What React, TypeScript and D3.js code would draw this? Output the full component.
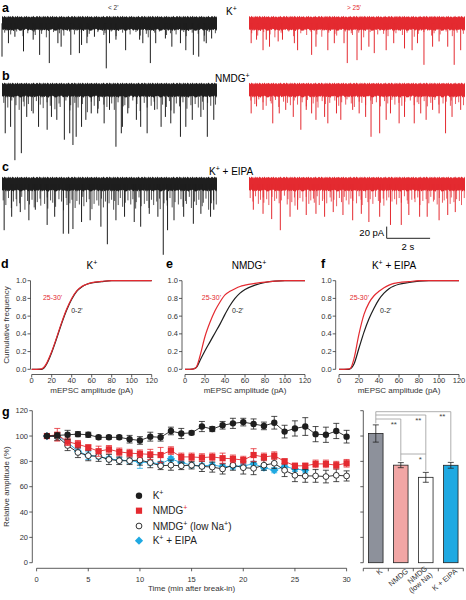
import React from "react";
import * as d3 from "d3";

const FONT = "'Liberation Sans', Arial, Helvetica, sans-serif";
const BLACK = "#1e1e1e";
const RED = "#e42a30";
const CYAN = "#1fa9e2";
const GREYBAR = "#8d919b";
const PINK = "#f2a6a5";

// ---------- traces (a, b, c): [time s, amplitude pA] ----------
const aBlackEvents = [[0.0,57],[0.3,34],[0.6,23],[1.0,48],[1.45,28],[1.75,54],[2.2,68],[2.6,34],[2.75,40],[3.2,54],[3.6,51],[3.7,37],[3.95,34],[4.3,23],[4.85,77],[5.0,34],[5.3,28],[5.75,46],[6.4,28],[6.55,34],[6.9,68],[7.15,34],[7.6,26],[7.9,40],[8.3,34],[8.55,46],[8.9,54],[9.15,57],[9.4,31],[9.5,34],[9.75,26]];
const aRedEvents = [[0.1,34],[0.35,28],[0.65,46],[0.8,28],[0.95,40],[1.35,31],[1.55,28],[2.1,34],[2.25,46],[2.9,54],[3.1,40],[3.65,46],[3.95,34],[4.4,34],[4.55,68],[5.0,63],[5.2,46],[5.55,40],[5.8,51],[6.35,46],[6.7,34],[7.2,43],[7.55,46],[7.8,34],[8.1,71],[8.5,40],[8.8,31],[9.2,40],[9.5,71],[9.8,46]];
const bBlackEvents = [[0.15,74],[0.4,63],[0.6,120],[0.9,108],[1.15,46],[1.45,40],[1.7,63],[2.1,68],[2.3,46],[2.55,51],[2.9,85],[3.15,74],[3.3,94],[3.45,80],[3.7,63],[3.9,51],[4.15,40],[4.45,40],[4.75,57],[5.0,34],[5.3,97],[5.55,74],[5.6,63],[5.85,40],[6.25,51],[6.45,63],[6.75,74],[7.1,34],[7.4,63],[7.6,46],[7.85,57],[8.0,40],[8.3,80],[8.55,63],[8.85,51],[9.25,46],[9.55,80],[9.85,51]];
const bRedEvents = [[0.1,40],[0.35,28],[0.65,34],[1.1,57],[1.4,40],[1.7,34],[2.05,46],[2.4,68],[2.65,34],[2.9,40],[3.1,51],[3.5,46],[3.65,57],[4.05,40],[4.25,51],[4.8,34],[5.1,40],[5.4,46],[5.65,80],[6.05,74],[6.35,51],[6.55,40],[6.95,57],[7.2,46],[7.65,57],[7.95,40],[8.2,51],[8.5,34],[8.8,40],[9.1,74],[9.4,46],[9.8,34]];
const cBlackEvents = [[0.1,79],[0.45,56],[0.85,48],[1.25,62],[1.55,44],[2.1,70],[2.45,56],[2.85,85],[3.1,85],[3.3,77],[3.7,65],[4.1,62],[4.6,73],[4.9,103],[5.3,62],[5.7,56],[6.15,65],[6.45,73],[6.85,51],[7.25,56],[7.5,121],[7.7,79],[8.0,62],[8.45,56],[8.9,68],[9.25,51],[9.7,56],[9.85,44]];
const cRedEvents = [[0.2,44],[0.65,51],[1.05,60],[1.45,79],[1.9,56],[2.25,44],[2.65,53],[3.1,51],[3.5,56],[3.9,48],[4.35,53],[4.8,62],[5.2,51],[5.55,65],[6.05,56],[6.55,70],[7.05,70],[7.4,53],[7.9,56],[8.25,56],[8.8,62],[9.2,53],[9.55,48]];

// small events, spread over the 10 s sweep (pA)
const aBlackMinis = [16,19,14,22,17,15,20,18,24,15,17,21,14,19,16,23,18,15,20,17,14,22,16,19,15,21,18,24,16,14,20,17,19,15,22,16,18,21,15,17];
const aRedMinis = [17,21,15,19,24,16,18,14,22,17,20,15,19,23,16,18,21,14,17,20,16,24,15,19,18,22,14,17,20,16,23,18,15,21,17,19,14,22,16,18];
const bBlackMinis = [22,30,18,26,34,20,28,24,36,19,25,31,21,27,33,23,29,18,35,26,22,30,24,38,20,27,32,19,25,29,23,34,21,28,26,31,18,24,36,22,30,27,20,33,25,29,19,35,23,28,21,32,26,24,30,20,34,22,27,25];
const bRedMinis = [18,24,16,21,27,19,23,17,29,20,22,26,18,25,21,28,17,23,20,30,19,24,22,18,27,21,25,16,23,29,20,22,26,18,24,21,28,19,23,17,25,22,27,20,18,26,21,24,19,28,22,17,25,23,20,27,18,24,21,26];
const cBlackMinis = [28,36,24,41,30,26,38,33,22,44,29,35,27,40,31,25,37,34,23,42,28,32,39,26,30,45,24,36,33,27,41,29,35,22,38,31,26,43,34,28,37,25,40,30,33,27,44,29,36,24,39,32,28,35,26,42,31,23,38,34,29,41,27,36,30,25,43,33,28,37,24,40,31,35,26,39,29,34,22,41,30,36,27,38,32,25,44,33,28,35];
const cRedMinis = [24,30,21,34,27,23,32,26,36,22,29,25,33,28,20,35,26,31,23,37,27,24,30,22,34,28,25,32,21,36,29,26,33,23,30,27,38,24,31,22,28,35,25,29,33,21,27,36,24,31,26,34,22,29,32,25,37,28,23,30,26,35,24,32,21,28,34,27,25,31,23,36,29,26,33,22,30,27,35,24,32,28,25,34,23,31,26,29,36,24];

const bandNoise = [2,3.5,1,2.5,4,1.5,3,0.5,2,3.8,1.2,2.7,3.3,0.8,2.2,4,1.7,2.9,0.6,3.5,2.1,1.4,3.9,2.6,0.9,3.1,1.8,2.4,3.6,1.1,2.8,0.7,3.4,2,1.6,3.7,2.3,1,3,1.9,2.5,0.5,3.2,1.3,2.7,3.9,1.5,2.2,0.8,3.4];

// ---------- cumulative distributions (d, e, f) ----------
const cdfAmp = [0,5,10,12,15,20,25,30,35,40,45,50,55,60,70,80,90,100,120];
const dBlack = [0,0,0,0.01,0.06,0.19,0.35,0.52,0.67,0.79,0.88,0.93,0.96,0.975,0.99,1,1,1,1];
const dRed = [0,0,0.005,0.02,0.07,0.2,0.36,0.53,0.68,0.8,0.885,0.935,0.96,0.978,0.992,1,1,1,1];
const eBlack = [0,0,0.01,0.03,0.1,0.21,0.31,0.41,0.51,0.62,0.72,0.8,0.86,0.9,0.95,0.98,0.995,1,1];
const eRed = [0,0,0.01,0.04,0.15,0.37,0.53,0.66,0.76,0.84,0.88,0.91,0.935,0.95,0.97,0.985,0.995,1,1];
const fBlack = [0,0,0,0.01,0.06,0.24,0.42,0.57,0.69,0.79,0.86,0.91,0.94,0.96,0.98,0.995,1,1,1];
const fRed = [0,0,0.005,0.02,0.12,0.4,0.62,0.75,0.83,0.88,0.92,0.95,0.97,0.98,0.99,1,1,1,1];
const cdfYTicks = [0,0.2,0.4,0.6,0.8,1.0];
const cdfXTicks = [0,20,40,60,80,100,120];

// ---------- time course (g) ----------
const timeMin = d3.range(1, 31);
const kMean = [100,100.5,101,101.5,101,99,99,99,97.5,96.5,99.5,99,104,102,102.5,107.5,105.5,108.5,110,111,109.5,108,110.5,103.5,106,107.5,101.5,101,104,99.5];
const kErr = [0,2,3.5,2,2,1.5,1.5,1.5,3,3,3.5,3,3,4,1.5,4,2,3,4,3,4,3,5,5,6,7,6,6,6,5];
const nMean = [100,101,95.5,93.5,91,88,89.5,87.5,86.5,86,85.5,85,88.5,83.5,83.5,83,83.5,82.5,82,81,85,83.5,84.5,80,76.5,76.5,78,78,77,78.5];
const nErr = [0,5,3,3,2,4,3,3,3,3,4,6,3,3,3,3,3,4,3,3,5,3,3,2,2,2,3,3,3,3];
const lMean = [100,99.5,92.5,87,84.5,84,81.5,80.5,80.5,81,79,76.5,77,76.5,77,76,75.5,74,77,75,74.5,77,78.5,73,69,68.5,68.5,68,69,68.5];
const lErr = [0,3,4,4,4,4,4,3,3,4,4,3,4,3,3,4,4,4,4,5,5,4,4,5,5,5,5,5,5,4];
const eMean = [100,100,95,88,84.5,84,82,81,80.5,79.5,79,78,82,79,77,76.5,77,76,76,76.5,78,75,73,76,74,73];
const eErr = [0,2,2,2,3,2,2,2,2,5,2,2,2,2,2,2,2,2,2,2,2,2,2,2,2,2];
const gYTicks = [0,20,40,60,80,100,120];
const gXTicks = [0,5,10,15,20,25,30];

// ---------- bars (g right) ----------
const barCats = ["K", "NMDG", "NMDG (low Na)", "K + EIPA"];
const barMean = [102, 77, 67.4, 76.9];
const barErr = [6.8, 2, 3.9, 2.3];
const barFill = [GREYBAR, PINK, "#ffffff", CYAN];

const BAND_HALF = 9;

function Trace({ events, minis, x0, x1, y0, color }) {
  const xs = d3.scaleLinear().domain([0, 10]).range([x0, x1]);
  const ys = d3.scaleLinear().domain([0, 20]).range([y0, y0 + 11.7]);
  const n = Math.round((x1 - x0) / 0.7);
  const L = bandNoise.length;
  const area = d3
    .area()
    .x((i) => xs((i * 10) / n))
    .y0((i) => 2 * y0 - ys(BAND_HALF + bandNoise[i % L]))
    .y1((i) => ys(BAND_HALF + bandNoise[(i * 7 + 3) % L]));
  const N = minis.length;
  return (
    <g>
      <path d={area(d3.range(n + 1))} fill={color} />
      {minis.map((a, i) => {
        const t = ((i + 0.5 + (bandNoise[(i * 3) % L] - 2) / 4.5) * 10) / N;
        const x = xs(Math.max(0, Math.min(10, t)));
        return <line key={"m" + i} x1={x} x2={x} y1={y0} y2={ys(a)} stroke={color} strokeWidth={0.9} strokeOpacity={0.85} />;
      })}
      {events.map(([t, a], i) => (
        <line key={"e" + i} x1={xs(t)} x2={xs(t)} y1={y0} y2={ys(a)} stroke={color} strokeWidth={1} />
      ))}
    </g>
  );
}

function CdfPanel({ x0, yAxisX, black, red, letter, title, redLabel, blackLabel }) {
  const xs = d3.scaleLinear().domain([0, 120]).range([x0, x0 + 120]);
  const ys = d3.scaleLinear().domain([0, 1]).range([369.3, 280.7]);
  const line = d3
    .line()
    .x((d) => xs(d[0]))
    .y((d) => ys(d[1]))
    .curve(d3.curveMonotoneX);
  const axisY = 374.5;
  return (
    <g fontFamily={FONT}>
      <text x={letter.x} y={268} fontSize={12.5} fontWeight="bold">{letter.t}</text>
      <text x={title.x} y={268.5} fontSize={10} textAnchor="middle">
        {title.parts}
      </text>
      <line x1={yAxisX} x2={yAxisX} y1={ys(0)} y2={ys(1)} stroke="#333" strokeWidth={0.8} />
      {cdfYTicks.map((v) => (
        <g key={v}>
          <line x1={yAxisX - 3} x2={yAxisX} y1={ys(v)} y2={ys(v)} stroke="#333" strokeWidth={0.8} />
          <text x={yAxisX - 4} y={ys(v) + 2.6} fontSize={7.5} textAnchor="end" fill="#333">{d3.format(".1f")(v)}</text>
        </g>
      ))}
      <line x1={xs(0)} x2={xs(120)} y1={axisY} y2={axisY} stroke="#333" strokeWidth={0.8} />
      {cdfXTicks.map((v) => (
        <g key={v}>
          <line x1={xs(v)} x2={xs(v)} y1={axisY} y2={axisY + 3} stroke="#333" strokeWidth={0.8} />
          <text x={xs(v)} y={383} fontSize={7.5} textAnchor="middle" fill="#333">{v}</text>
        </g>
      ))}
      <text x={xs(60)} y={393} fontSize={8} textAnchor="middle" fill="#333">mEPSC amplitude (pA)</text>
      <path d={line(cdfAmp.map((a, i) => [a, black[i]]))} fill="none" stroke={BLACK} strokeWidth={1.2} />
      <path d={line(cdfAmp.map((a, i) => [a, red[i]]))} fill="none" stroke={RED} strokeWidth={1.2} />
      <text x={xs(redLabel)} y={ys(0.81) + 2.6} fontSize={7} textAnchor="end" fill={RED}>25-30'</text>
      <text x={xs(blackLabel)} y={ys(0.67) + 2.6} fontSize={7} fill={BLACK}>0-2'</text>
    </g>
  );
}

function Sup({ children, fill }: any) {
  return (
    <tspan dy={-4} fontSize="0.7em" fill={fill}>
      {children}
    </tspan>
  );
}

function TimeCourse() {
  const xs = d3.scaleLinear().domain([0, 30]).range([36.6, 346.6]);
  const ys = d3.scaleLinear().domain([0, 120]).range([562.7, 410.7]);
  const line = d3.line().x((d) => xs(d[0])).y((d) => ys(d[1]));
  const series = [
    { m: eMean, e: eErr, color: CYAN, ec: CYAN, kind: "diamond" },
    { m: lMean, e: lErr, color: BLACK, ec: BLACK, kind: "open" },
    { m: nMean, e: nErr, color: RED, ec: RED, kind: "square" },
    { m: kMean, e: kErr, color: BLACK, ec: BLACK, kind: "circle" },
  ];
  const marker = (kind, x, y, key) => {
    if (kind === "circle") return <circle key={key} cx={x} cy={y} r={3.2} fill={BLACK} />;
    if (kind === "open") return <circle key={key} cx={x} cy={y} r={2.9} fill="#fff" stroke={BLACK} strokeWidth={0.9} />;
    if (kind === "square") return <rect key={key} x={x - 3.1} y={y - 3.1} width={6.2} height={6.2} fill={RED} />;
    return <path key={key} d={`M${x},${y - 4.1}L${x + 4.1},${y}L${x},${y + 4.1}L${x - 4.1},${y}Z`} fill={CYAN} />;
  };
  const axisY = 568.3;
  const legend = [
    { kind: "circle", y: 495.7, label: <>K<Sup>+</Sup></> },
    { kind: "square", y: 510.7, label: <>NMDG<Sup fill={RED}>+</Sup></> },
    { kind: "open", y: 526, label: <>NMDG<Sup>+</Sup><tspan dy={4}> (low Na</tspan><Sup>+</Sup><tspan dy={4}>)</tspan></> },
    { kind: "diamond", y: 540.7, label: <>K<Sup>+</Sup><tspan dy={4}> + EIPA</tspan></> },
  ];
  return (
    <g fontFamily={FONT}>
      <text x={2} y={416} fontSize={12.5} fontWeight="bold">g</text>
      <line x1={32.3} x2={32.3} y1={ys(0)} y2={ys(120)} stroke="#333" strokeWidth={0.8} />
      {gYTicks.map((v) => (
        <g key={v}>
          <line x1={29.3} x2={32.3} y1={ys(v)} y2={ys(v)} stroke="#333" strokeWidth={0.8} />
          <text x={28} y={ys(v) + 2.6} fontSize={7.5} textAnchor="end" fill="#333">{v}</text>
        </g>
      ))}
      <text transform={`translate(9,${ys(60)}) rotate(-90)`} fontSize={8} textAnchor="middle" fill="#333">Relative amplitude (%)</text>
      <line x1={xs(0)} x2={xs(30)} y1={axisY} y2={axisY} stroke="#333" strokeWidth={0.8} />
      {gXTicks.map((v) => (
        <g key={v}>
          <line x1={xs(v)} x2={xs(v)} y1={axisY} y2={axisY + 3} stroke="#333" strokeWidth={0.8} />
          <text x={xs(v)} y={581.5} fontSize={7.5} textAnchor="middle" fill="#333">{v}</text>
        </g>
      ))}
      <text x={xs(15)} y={591} fontSize={8} textAnchor="middle" fill="#333">Time (min after break-in)</text>
      {series.map((s, si) => {
        const pts = s.m.map((v, i) => [timeMin[i], v]);
        return (
          <g key={si}>
            <path d={line(pts)} fill="none" stroke={s.color} strokeWidth={0.9} />
            {pts.map(([t, v], i) =>
              s.e[i] > 0 ? (
                <g key={"e" + i} stroke={s.ec} strokeWidth={0.8}>
                  <line x1={xs(t)} x2={xs(t)} y1={ys(v - s.e[i])} y2={ys(v + s.e[i])} />
                  <line x1={xs(t) - 3} x2={xs(t) + 3} y1={ys(v - s.e[i])} y2={ys(v - s.e[i])} />
                  <line x1={xs(t) - 3} x2={xs(t) + 3} y1={ys(v + s.e[i])} y2={ys(v + s.e[i])} />
                </g>
              ) : null
            )}
            {pts.map(([t, v], i) => marker(s.kind, xs(t), ys(v), "m" + i))}
          </g>
        );
      })}
      {legend.map((l, i) => (
        <g key={i}>
          {marker(l.kind, 139, l.y, "lg" + i)}
          <text x={152.7} y={l.y + 3.6} fontSize={10} fill="#222">{l.label}</text>
        </g>
      ))}
    </g>
  );
}

function Bars() {
  const xb = d3.scaleBand().domain(barCats).range([363.3, 463.3]).paddingInner(0.42).paddingOuter(0.21);
  const ys = d3.scaleLinear().domain([0, 120]).range([562.7, 410.7]);
  const cx = (i) => xb(barCats[i]) + xb.bandwidth() / 2;
  const axisY = 568.3;
  const step = 25;
  const bounds = d3.range(5).map((i) => 363.3 + i * step);
  const grey = "#9a9a9a";
  return (
    <g fontFamily={FONT}>
      <line x1={363.3} x2={363.3} y1={ys(0)} y2={ys(120)} stroke="#333" strokeWidth={0.8} />
      {gYTicks.map((v) => (
        <line key={v} x1={360.3} x2={363.3} y1={ys(v)} y2={ys(v)} stroke="#333" strokeWidth={0.8} />
      ))}
      <line x1={363.3} x2={463.3} y1={axisY} y2={axisY} stroke="#333" strokeWidth={0.8} />
      {bounds.map((b, i) => (
        <line key={i} x1={b} x2={b} y1={axisY} y2={axisY + 3} stroke="#333" strokeWidth={0.8} />
      ))}
      {barCats.map((c, i) => (
        <g key={c}>
          <rect x={xb(c)} y={ys(barMean[i])} width={xb.bandwidth()} height={ys(0) - ys(barMean[i])} fill={barFill[i]} stroke="#222" strokeWidth={0.8} />
          <g stroke="#222" strokeWidth={0.8}>
            <line x1={cx(i)} x2={cx(i)} y1={ys(barMean[i] - barErr[i])} y2={ys(barMean[i] + barErr[i])} />
            <line x1={cx(i) - 3} x2={cx(i) + 3} y1={ys(barMean[i] - barErr[i])} y2={ys(barMean[i] - barErr[i])} />
            <line x1={cx(i) - 3} x2={cx(i) + 3} y1={ys(barMean[i] + barErr[i])} y2={ys(barMean[i] + barErr[i])} />
          </g>
        </g>
      ))}
      {/* significance brackets */}
      <g stroke={grey} strokeWidth={0.8} fill="none">
        <path d={`M${cx(0)},${ys(barMean[0] + barErr[0]) - 1.5}V411.7H${cx(3)}V${ys(barMean[3] + barErr[3]) - 1.5}`} />
        <path d={`M${cx(0)},415H${cx(2)}V${ys(barMean[2] + barErr[2]) - 1.5}`} />
        <path d={`M${cx(0)},419H${cx(1)}V${ys(barMean[1] + barErr[1]) - 1.5}`} />
        <path d={`M${cx(1)},454H${cx(2)}`} />
      </g>
      <g fontSize={8} fill="#444" textAnchor="middle">
        <text x={cx(1) - 7} y={427}>**</text>
        <text x={cx(2) - 7.5} y={422.5}>**</text>
        <text x={cx(3) - 8.5} y={419}>**</text>
        <text x={(cx(1) + cx(2)) / 2 + 7} y={461.5}>*</text>
      </g>
      <g fontSize={7.5} fill="#333">
        <text transform={`translate(${cx(0) + 7},572) rotate(-40)`} textAnchor="end">K</text>
        <text transform={`translate(${cx(1) + 8},572) rotate(-40)`} textAnchor="end">NMDG</text>
        <text transform={`translate(${cx(2) + 2},569.5) rotate(-40)`} textAnchor="end">
          <tspan x={0} dy={0}>NMDG</tspan>
          <tspan x={0} dy={8}>(low Na)</tspan>
        </text>
        <text transform={`translate(${cx(3) + 7},572) rotate(-40)`} textAnchor="end">K + EIPA</text>
      </g>
    </g>
  );
}

export default function App() {
  const ysBar = d3.scaleLinear().domain([0, 20]).range([0, 11.7]);
  const xsBar = d3.scaleLinear().domain([0, 10]).range([0, 217]);
  const sbX = 386.7, sbY = 238.3;
  return (
    <svg width={466} height={600} style={{ position: "absolute", left: 0, top: 0, background: "#fff" }} fontFamily={FONT}>
      <rect width={466} height={600} fill="#fff" />
      {/* traces */}
      <Trace events={aBlackEvents} minis={aBlackMinis} x0={2} x1={217} y0={23.3} color={BLACK} />
      <Trace events={aRedEvents} minis={aRedMinis} x0={249} x1={465} y0={23.3} color={RED} />
      <Trace events={bBlackEvents} minis={bBlackMinis} x0={2} x1={217} y0={90} color={BLACK} />
      <Trace events={bRedEvents} minis={bRedMinis} x0={249} x1={465} y0={90} color={RED} />
      <Trace events={cBlackEvents} minis={cBlackMinis} x0={2} x1={217} y0={184} color={BLACK} />
      <Trace events={cRedEvents} minis={cRedMinis} x0={249} x1={465} y0={184} color={RED} />
      <text x={2} y={12} fontSize={12.5} fontWeight="bold">a</text>
      <text x={108} y={10} fontSize={6.5} fill="#333">{"< 2'"}</text>
      <text x={226} y={14.5} fontSize={10}>K<Sup>+</Sup></text>
      <text x={347} y={10} fontSize={6.5} fill={RED}>{"> 25'"}</text>
      <text x={2} y={80} fontSize={12.5} fontWeight="bold">b</text>
      <text x={215} y={81.5} fontSize={10}>NMDG<Sup>+</Sup></text>
      <text x={2} y={171} fontSize={12.5} fontWeight="bold">c</text>
      <text x={209} y={175} fontSize={10}>K<Sup>+</Sup><tspan dy={4}> + EIPA</tspan></text>
      {/* scale bar */}
      <path d={`M${sbX},${sbY - ysBar(20)}V${sbY}H${sbX + xsBar(2)}`} fill="none" stroke="#222" strokeWidth={1} />
      <text x={sbX - 2.5} y={sbY - 2.8} fontSize={9.5} textAnchor="end">20 pA</text>
      <text x={sbX + xsBar(1) - 0.5} y={250} fontSize={9.5} textAnchor="middle">2 s</text>
      {/* cumulative panels */}
      <text transform={`translate(9,325) rotate(-90)`} fontSize={8} textAnchor="middle" fill="#333">Cumulative frequency</text>
      <CdfPanel x0={31.7} yAxisX={30.5} black={dBlack} red={dRed} letter={{ x: 1, t: "d" }}
        title={{ x: 92, parts: <>K<Sup>+</Sup></> }} redLabel={30.5} blackLabel={39.5} />
      <CdfPanel x0={185} yAxisX={182} black={eBlack} red={eRed} letter={{ x: 166, t: "e" }}
        title={{ x: 249, parts: <>NMDG<Sup>+</Sup></> }} redLabel={36} blackLabel={47} />
      <CdfPanel x0={339} yAxisX={335.7} black={fBlack} red={fRed} letter={{ x: 321, t: "f" }}
        title={{ x: 394, parts: <>K<Sup>+</Sup><tspan dy={4}> + EIPA</tspan></> }} redLabel={30} blackLabel={41} />
      <TimeCourse />
      <Bars />
    </svg>
  );
}
